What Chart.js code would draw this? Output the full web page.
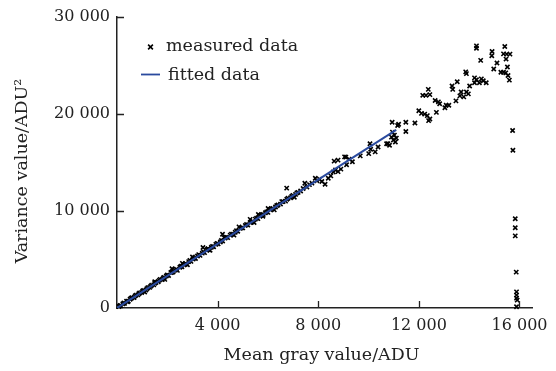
<!DOCTYPE html>
<html>
<head>
<meta charset="utf-8">
<script src="https://cdn.jsdelivr.net/npm/chart.js@4.4.1/dist/chart.umd.min.js"></script>
<style>
    html, body { margin: 0; padding: 0; background: #fff; }
    #wrap { width: 556px; height: 371px; position: relative; }
</style>
</head>
<body>
<div id="wrap"><canvas id="photonChart" width="556" height="371"></canvas></div>
<script>
// Photon transfer curve: mean gray value vs variance
const xTicks = [4000, 8000, 12000, 16000];
const yTicks = [0, 10000, 20000, 30000];

const measuredX = [
    80, 150, 230, 300, 380, 450, 520, 600, 680, 760, 830, 900, 980, 1060, 1150, 1230, 1300, 1380, 1460, 1550,
    1640, 1720, 1800, 1880, 1960, 2050, 2140, 2230, 2320, 2400, 2500, 2580, 2670, 2760, 2850, 2940, 3030, 3120, 3200, 3300,
    3390, 3480, 3570, 3660, 3750, 3840, 3930, 4020, 4110, 4200, 4300, 4400, 4500, 4600, 4700, 4800, 4900, 5000, 5100, 5200,
    5300, 5400, 5500, 5600, 5700, 5800, 5900, 6000, 6100, 6200, 6300, 6400, 6500, 6600, 6700, 6800, 6900, 7000, 7100, 7200,
    120, 270, 420, 560, 720, 870, 1020, 1190, 1340, 1500, 1680, 1840, 2000, 2180, 2360, 2540, 2720, 2900, 3080, 3250,
    3440, 3620, 3800, 3980, 4150, 4350, 4550, 4750, 4950, 5150, 5350, 5550, 5750, 5950, 6150, 6350, 6550, 6750, 6950, 7150,
    2186, 3417, 4194, 4259, 5293, 1500, 2600, 3000, 4850, 3611, 5813, 5619, 6007,
    1100, 1900, 2800, 3700, 4650, 5450, 6250, 7050,
    6745, 7300, 7400, 7467, 7550, 7650, 7750, 7883, 7950, 8050, 8143, 8271, 8399, 8500, 8600, 8686, 8787, 8900,
    8632, 9047, 9125, 9358, 9669, 9098, 8787, 9230, 10057, 10379, 10006, 10084, 10263, 10767, 10834, 10717,
    10938, 11156, 11195, 11482, 11482, 11843, 10950, 11028, 11105, 10989, 11066, 10911,
    11998, 12103, 12231, 12336, 12437, 12387, 12697, 12154, 12282, 12437, 12375, 12647, 12775, 12826, 13086, 13191,
    13035, 13474, 13319, 13346, 13680, 13890, 13967, 13630, 13785, 13525, 14018, 13862, 13890, 14212, 14290, 14406,
    14484, 14561, 14678, 14212, 14457, 14290, 14290, 14911, 14899, 15105, 14977, 15415, 15365, 15493, 15621, 15466,
    15520, 15260, 15365, 15454, 15544, 15598,
    15726, 15738, 15831, 15831, 15831, 15870, 15882, 15882, 15909, 15882, 15882
];
const measuredY = [
    160, 230, 420, 480, 690, 700, 900, 1050, 1080, 1330, 1350, 1560, 1600, 1820, 1850, 2100, 2120, 2350, 2380, 2620,
    2700, 2950, 2930, 3150, 3300, 3350, 3650, 3700, 3900, 3870, 4200, 4250, 4450, 4520, 4780, 4800, 5050, 5100, 5350, 5420,
    5650, 5700, 6000, 5980, 6250, 6300, 6550, 6600, 6800, 6900, 7200, 7250, 7500, 7600, 7800, 7900, 8200, 8250, 8500, 8550,
    8800, 8900, 9150, 9200, 9500, 9450, 9800, 9850, 10100, 10250, 10400, 10600, 10700, 10950, 11000, 11300, 11350, 11600, 11700, 11900,
    260, 520, 640, 1000, 1250, 1480, 1750, 2000, 2250, 2550, 2850, 3100, 3400, 3680, 4000, 4300, 4560, 4900, 5150, 5500,
    5780, 6100, 6350, 6650, 6950, 7300, 7600, 7950, 8250, 8600, 8850, 9250, 9600, 9900, 10200, 10550, 10950, 11200, 11500, 11850,
    4037, 6234, 7597, 7251, 9123, 2700, 4600, 5250, 8350, 6071, 9631, 9631, 10241,
    1650, 2950, 4450, 5950, 7500, 8800, 10100, 11400,
    12336, 12050, 12300, 12845, 12450, 12700, 12850, 13353, 13100, 13250, 13018, 12743, 13353, 13600, 14000, 14207, 14035, 14300,
    15123, 15560, 14747, 15052, 15662, 15530, 15225, 15326, 16913, 16577, 15896, 16343, 16069, 16913, 16750, 16913,
    19120, 18784, 18916, 19120, 18174, 19049, 18103, 17798, 17492, 17289, 17086, 17594,
    20309, 20035, 19964, 19801, 19455, 19293, 20137, 21896, 21896, 21967, 22506, 21357, 21225, 21022, 20879, 20879,
    20615, 21326, 22852, 22506, 22242, 22242, 22039, 21835, 21733, 23289, 22852, 24306, 24133, 23696, 23493, 23188,
    23594, 23391, 23188, 23188, 25496, 26981, 26747, 26411, 25964, 25222, 24611, 26916, 26167, 26137, 26137, 25628,
    24815, 24276, 24276, 24205, 23930, 23462,
    18275, 16242, 9184, 8268, 7424, 3692, 1658, 1322, 814, 132, 1017
];

const fittedX = [0, 11100];
const fittedY = [0, 18330];

const AXIS_COLOR = '#222';
const TEXT_COLOR = '#222';
const FIT_COLOR = '#2a4a9e';
const SERIF = '"DejaVu Serif", "Liberation Serif", serif';

function spaced(v) {
    return String(v).replace(/\B(?=(\d{3})+(?!\d))/g, ' ');
}

// inward tick marks, legend and axis titles
const decorPlugin = {
    id: 'decor',
    afterDraw(chart) {
        const ctx = chart.ctx;
        const xs = chart.scales.x;
        const ys = chart.scales.y;
        const area = chart.chartArea;
        ctx.save();
        ctx.strokeStyle = AXIS_COLOR;
        ctx.lineWidth = 1.3;
        ctx.beginPath();
        yTicks.forEach(v => {
            if (v === 0) return;
            const py = Math.round(ys.getPixelForValue(v)) + 0.5;
            ctx.moveTo(area.left, py);
            ctx.lineTo(area.left + 7, py);
        });
        xTicks.forEach(v => {
            const px = Math.round(xs.getPixelForValue(v)) + 0.5;
            ctx.moveTo(px, area.bottom);
            ctx.lineTo(px, area.bottom - 7);
        });
        ctx.stroke();

        // legend
        ctx.fillStyle = TEXT_COLOR;
        ctx.font = '17.5px ' + SERIF;
        ctx.textBaseline = 'middle';
        ctx.textAlign = 'left';
        ctx.strokeStyle = '#000';
        ctx.lineWidth = 1.6;
        ctx.beginPath();
        const mx = 150.5, my = 47, r = 2.4;
        ctx.moveTo(mx - r, my - r); ctx.lineTo(mx + r, my + r);
        ctx.moveTo(mx + r, my - r); ctx.lineTo(mx - r, my + r);
        ctx.stroke();
        ctx.fillText('measured data', 166, 46);
        ctx.strokeStyle = FIT_COLOR;
        ctx.lineWidth = 1.8;
        ctx.beginPath();
        ctx.moveTo(141, 74.5); ctx.lineTo(160, 74.5);
        ctx.stroke();
        ctx.fillText('fitted data', 168, 75);

        // axis titles
        ctx.textAlign = 'center';
        ctx.fillText('Mean gray value/ADU', (area.left + area.right) / 2 - 3, 355);
        ctx.translate(22, 171);
        ctx.rotate(-Math.PI / 2);
        ctx.fillText('Variance value/ADU\u00B2', 0, 0);
        ctx.restore();
    }
};

const measuredPoints = measuredX.map((x, i) => ({ x: x, y: measuredY[i] }));
const fittedPoints = fittedX.map((x, i) => ({ x: x, y: fittedY[i] }));

new Chart(document.getElementById('photonChart').getContext('2d'), {
    type: 'scatter',
    data: {
        datasets: [{
            label: 'fitted data',
            type: 'line',
            order: 0,
            data: fittedPoints,
            borderColor: FIT_COLOR,
            borderWidth: 2,
            pointRadius: 0,
            fill: false,
            tension: 0
        }, {
            label: 'measured data',
            order: 1,
            data: measuredPoints,
            pointStyle: 'crossRot',
            pointRadius: 3,
            pointBorderWidth: 1.6,
            borderColor: '#000',
            backgroundColor: '#000',
            clip: false
        }]
    },
    options: {
        responsive: false,
        animation: false,
        devicePixelRatio: 1,
        layout: { padding: { left: 0, top: 13, right: 17, bottom: 0 } },
        plugins: {
            legend: { display: false },
            tooltip: { enabled: false }
        },
        scales: {
            x: {
                type: 'linear',
                min: 0,
                max: 16500,
                grid: { display: false, drawTicks: false },
                border: { display: true, color: AXIS_COLOR, width: 1.5 },
                afterBuildTicks: scale => { scale.ticks = xTicks.map(v => ({ value: v })); },
                afterFit: scale => { scale.height = 63; },
                ticks: {
                    padding: 8,
                    color: TEXT_COLOR,
                    font: { family: SERIF, size: 16 },
                    maxRotation: 0,
                    callback: v => spaced(v)
                }
            },
            y: {
                type: 'linear',
                min: 0,
                max: 30000,
                grid: { display: false, drawTicks: false },
                border: { display: true, color: AXIS_COLOR, width: 1.5 },
                afterBuildTicks: scale => { scale.ticks = yTicks.map(v => ({ value: v })); },
                afterFit: scale => { scale.width = 117; },
                ticks: {
                    padding: 7,
                    color: TEXT_COLOR,
                    font: { family: SERIF, size: 16 },
                    callback: v => spaced(v)
                }
            }
        }
    },
    plugins: [decorPlugin]
});
</script>
</body>
</html>
